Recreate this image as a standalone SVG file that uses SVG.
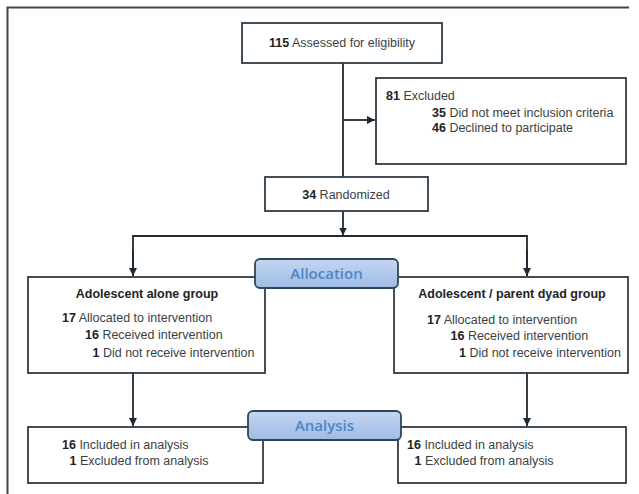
<svg xmlns="http://www.w3.org/2000/svg" width="639" height="494" viewBox="0 0 639 494">
<defs>
<marker id="ah" viewBox="0 0 10 10" refX="10" refY="5" markerWidth="8" markerHeight="8" markerUnits="userSpaceOnUse" orient="auto">
<path d="M0,0 L10,5 L0,10 z" fill="#1f2a33"/>
</marker>
<linearGradient id="lab" x1="0" y1="0" x2="0" y2="1">
<stop offset="0" stop-color="#c4d6f1"/>
<stop offset="1" stop-color="#9fbbe4"/>
</linearGradient>
</defs>
<style>
.box{fill:#fff;stroke:#2e3c47;stroke-width:1.8}
.lab{fill:url(#lab);stroke:#2f4559;stroke-width:1.8}
.ln{fill:none;stroke:#1f2a33;stroke-width:1.8}
text{font-family:"Liberation Sans",Arial,sans-serif;font-size:12.5px;fill:#3a3f44}
.b{font-weight:bold;fill:#1e2226}
.lt{font-family:"Open Sans","Liberation Sans",sans-serif;font-size:15px;font-weight:600;fill:#4f86c9}
</style>
<rect width="639" height="494" fill="#fff"/>
<g id="frame"><path d="M7.5,494 V7.5 H629" fill="none" stroke="#444" stroke-width="2"/></g>
<g id="connectors">
<path class="ln" d="M343,63 V177"/>
<path class="ln" d="M343,120 H375" marker-end="url(#ah)"/>
<path class="ln" d="M343,211 V235.5" marker-end="url(#ah)"/>
<path class="ln" d="M133,276 V236 H527 V276"/>
<path class="ln" d="M133,250 V276" marker-end="url(#ah)"/>
<path class="ln" d="M527,250 V276" marker-end="url(#ah)"/>
<path class="ln" d="M133,373 V426" marker-end="url(#ah)"/>
<path class="ln" d="M527,373 V426" marker-end="url(#ah)"/>
</g>
<g id="assessed">
<rect class="box" x="242" y="23" width="200" height="40"/>
<text x="342" y="47" text-anchor="middle"><tspan class="b">115</tspan> Assessed for eligibility</text>
</g>
<g id="excluded">
<rect class="box" x="376" y="78" width="250" height="86"/>
<text x="386" y="100"><tspan class="b">81</tspan> Excluded</text>
<text x="432" y="117"><tspan class="b">35</tspan> Did not meet inclusion criteria</text>
<text x="432" y="132"><tspan class="b">46</tspan> Declined to participate</text>
</g>
<g id="randomized">
<rect class="box" x="265" y="177" width="163" height="34"/>
<text x="346" y="199" text-anchor="middle"><tspan class="b">34</tspan> Randomized</text>
</g>
<g id="alone">
<rect class="box" x="28" y="277" width="237" height="96"/>
<text x="147" y="298" text-anchor="middle" class="b">Adolescent alone group</text>
<text x="62" y="322"><tspan class="b">17</tspan> Allocated to intervention</text>
<text x="85" y="339"><tspan class="b">16</tspan> Received intervention</text>
<text x="92.5" y="357"><tspan class="b">1</tspan> Did not receive intervention</text>
</g>
<g id="dyad">
<rect class="box" x="394" y="277" width="234" height="96"/>
<text x="512" y="298" text-anchor="middle" class="b">Adolescent / parent dyad group</text>
<text x="427" y="324"><tspan class="b">17</tspan> Allocated to intervention</text>
<text x="450.5" y="340"><tspan class="b">16</tspan> Received intervention</text>
<text x="459" y="357"><tspan class="b">1</tspan> Did not receive intervention</text>
</g>
<g id="allocation">
<rect class="lab" x="255" y="259" width="143" height="29" rx="5"/>
<text class="lt" x="326.5" y="279" text-anchor="middle">Allocation</text>
</g>
<g id="alone-analysis">
<rect class="box" x="28" y="427" width="235" height="56"/>
<text x="62" y="449"><tspan class="b">16</tspan> Included in analysis</text>
<text x="69.5" y="465"><tspan class="b">1</tspan> Excluded from analysis</text>
</g>
<g id="dyad-analysis">
<rect class="box" x="398" y="427" width="228" height="56"/>
<text x="407" y="449"><tspan class="b">16</tspan> Included in analysis</text>
<text x="414.5" y="465"><tspan class="b">1</tspan> Excluded from analysis</text>
</g>
<g id="analysis">
<rect class="lab" x="248" y="411" width="153" height="29" rx="5"/>
<text class="lt" x="324.5" y="431" text-anchor="middle">Analysis</text>
</g>
</svg>
